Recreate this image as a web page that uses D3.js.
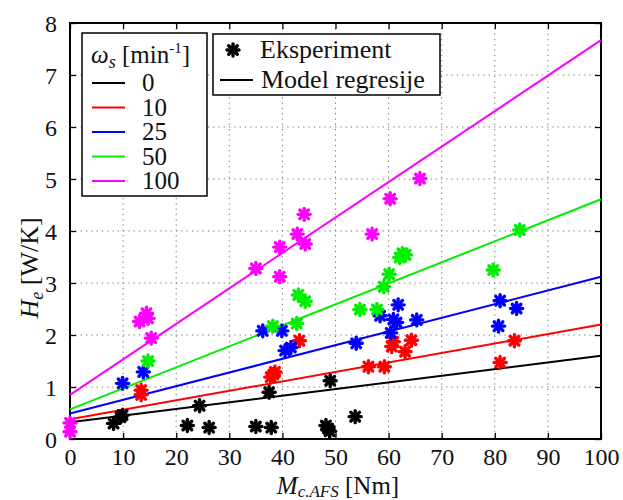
<!DOCTYPE html>
<html>
<head>
<meta charset="utf-8">
<script src="https://cdn.jsdelivr.net/npm/d3@7"></script>
<style>
  body { margin: 0; background: #fff; }
  svg { display: block; font-family: "Liberation Serif", "Times New Roman", Times, serif; }
</style>
</head>
<body>
<svg id="chart" width="623" height="500"></svg>
<script>
// ---------- data ----------
const xTicks = [0, 10, 20, 30, 40, 50, 60, 70, 80, 90, 100];
const yTicks = [0, 1, 2, 3, 4, 5, 6, 7, 8];
const speeds = ["0", "10", "25", "50", "100"];
const seriesColors = ["#000000", "#ff0000", "#0000ff", "#00ee00", "#ff00ff"];

// regression model: value at M = 0 and M = 100
const modelX = [0, 100];
const model0 = [0.32, 1.60];
const model10 = [0.38, 2.20];
const model25 = [0.49, 3.12];
const model50 = [0.57, 4.61];
const model100 = [0.85, 7.67];

// experiment points
const exp0X = [8.2, 9.5, 9.9, 22.1, 24.4, 26.2, 35, 37.9, 37.5, 49, 48.2, 48.6, 48.9, 53.7];
const exp0Y = [0.30, 0.42, 0.46, 0.26, 0.64, 0.22, 0.24, 0.22, 0.90, 1.12, 0.26, 0.20, 0.15, 0.43];

const exp10X = [13.4, 13.4, 37.8, 38.3, 38.6, 43.2, 56.2, 59.2, 60.6, 60.9, 63.1, 64.3, 81, 83.7];
const exp10Y = [0.94, 0.85, 1.19, 1.24, 1.29, 1.89, 1.39, 1.39, 1.78, 1.87, 1.68, 1.90, 1.47, 1.89];

const exp25X = [9.9, 13.8, 36.3, 39.9, 40.5, 41.6, 53.9, 58.4, 60.4, 60.9, 61.5, 61.8, 65.3, 80.7, 81, 84.1];
const exp25Y = [1.07, 1.29, 2.08, 2.08, 1.70, 1.76, 1.84, 2.37, 2.04, 2.30, 2.24, 2.58, 2.29, 2.17, 2.66, 2.51];

const exp50X = [14.7, 38.2, 42.7, 43, 44.3, 54.6, 57.8, 59.1, 60.1, 62.1, 62.6, 63.2, 79.7, 84.7];
const exp50Y = [1.50, 2.17, 2.22, 2.77, 2.65, 2.49, 2.49, 2.93, 3.17, 3.49, 3.57, 3.54, 3.25, 4.02];

const exp100X = [0, 0, 13.1, 14.4, 14.7, 15.3, 35, 39.5, 39.5, 42.8, 44.3, 44.1, 56.9, 60.3, 65.9];
const exp100Y = [0.31, 0.14, 2.26, 2.42, 2.32, 1.94, 3.28, 3.69, 3.12, 3.94, 3.75, 4.32, 3.94, 4.62, 5.01];

const models = [model0, model10, model25, model50, model100];
const expX = [exp0X, exp10X, exp25X, exp50X, exp100X];
const expY = [exp0Y, exp10Y, exp25Y, exp50Y, exp100Y];

// ---------- layout ----------
const L = 70, R = 601, T = 23, B = 439;
const x = d3.scaleLinear().domain([0, 100]).range([L, R]);
const y = d3.scaleLinear().domain([0, 8]).range([B, T]);
const serif = "'Liberation Serif', 'Times New Roman', Times, serif";

const svg = d3.select("#chart");

// grid
const grid = svg.append("g");
grid.selectAll("line.gx").data(xTicks.slice(1, -1)).enter().append("line")
  .attr("x1", d => x(d)).attr("x2", d => x(d)).attr("y1", T).attr("y2", B)
  .attr("stroke", "#777").attr("stroke-width", 1).attr("stroke-dasharray", "1.3,4");
grid.selectAll("line.gy").data(yTicks.slice(1, -1)).enter().append("line")
  .attr("y1", d => y(d)).attr("y2", d => y(d)).attr("x1", L).attr("x2", R)
  .attr("stroke", "#777").attr("stroke-width", 1).attr("stroke-dasharray", "1.3,4");

// axes (ticks inside, box)
const fontSize = 24;
const axB = svg.append("g").attr("transform", `translate(0,${B})`)
  .call(d3.axisBottom(x).tickValues(xTicks).tickSize(-6).tickPadding(9).tickFormat(d3.format("d")));
const axL = svg.append("g").attr("transform", `translate(${L},0)`)
  .call(d3.axisLeft(y).tickValues(yTicks).tickSize(-6).tickPadding(13).tickFormat(d3.format("d")));
const axT = svg.append("g").attr("transform", `translate(0,${T})`)
  .call(d3.axisTop(x).tickValues(xTicks).tickSize(-6).tickFormat(""));
const axR = svg.append("g").attr("transform", `translate(${R},0)`)
  .call(d3.axisRight(y).tickValues(yTicks).tickSize(-6).tickFormat(""));
[axB, axL, axT, axR].forEach(a => {
  a.attr("font-family", serif);
  a.select(".domain").remove();
  a.selectAll(".tick line").attr("stroke", "#000").attr("stroke-width", 1.3);
  a.selectAll("text").attr("font-size", fontSize).attr("fill", "#111")
    .style("font-family", serif);
});
axL.selectAll("text").attr("dy", "0.34em");

svg.append("rect").attr("x", L).attr("y", T).attr("width", R - L).attr("height", B - T)
  .attr("fill", "none").attr("stroke", "#000").attr("stroke-width", 2);

// regression lines
const line = d3.line().x((d, i) => x(modelX[i])).y(d => y(d));
models.forEach((m, k) => {
  svg.append("path").attr("d", line(m)).attr("fill", "none")
    .attr("stroke", seriesColors[k]).attr("stroke-width", 2);
});

// star marker
function star(g, cx, cy, color) {
  const a = 6, b = 4.3;
  const segs = [[-a, 0, a, 0], [0, -a, 0, a], [-b, -b, b, b], [-b, b, b, -b]];
  segs.forEach(s => g.append("line")
    .attr("x1", cx + s[0]).attr("y1", cy + s[1]).attr("x2", cx + s[2]).attr("y2", cy + s[3])
    .attr("stroke", color).attr("stroke-width", 3.4).attr("stroke-linecap", "round"));
}
const pts = svg.append("g");
expX.forEach((xs, k) => {
  xs.forEach((v, i) => star(pts, x(v), y(expY[k][i]), seriesColors[k]));
});

// axis labels
const xl = svg.append("text").attr("x", 338).attr("y", 494).attr("text-anchor", "middle")
  .attr("font-size", 25).attr("fill", "#111");
xl.append("tspan").attr("font-style", "italic").text("M");
xl.append("tspan").attr("font-style", "italic").attr("font-size", 17).attr("dy", 3).text("c.AFS");
xl.append("tspan").attr("dy", -3).text(" [Nm]");

const yl = svg.append("text").attr("transform", "translate(38,268) rotate(-90)")
  .attr("text-anchor", "middle").attr("font-size", 26).attr("fill", "#111");
yl.append("tspan").attr("font-style", "italic").text("H");
yl.append("tspan").attr("font-style", "italic").attr("font-size", 18).attr("dy", 5).text("e");
yl.append("tspan").attr("dy", -5).text(" [W/K]");

// legend 1
const lg1 = svg.append("g");
lg1.append("rect").attr("x", 82).attr("y", 33).attr("width", 125).attr("height", 163)
  .attr("fill", "#fff").attr("stroke", "#000").attr("stroke-width", 1.5);
const tt = lg1.append("text").attr("x", 91).attr("y", 63).attr("font-size", 25).attr("fill", "#111");
tt.append("tspan").attr("font-style", "italic").text("ω");
tt.append("tspan").attr("font-style", "italic").attr("font-size", 18).attr("dy", 5).text("s");
tt.append("tspan").attr("dy", -5).text(" [min");
tt.append("tspan").attr("font-size", 15).attr("dy", -10).text("-1");
tt.append("tspan").attr("dy", 10).text("]");
speeds.forEach((s, i) => {
  const yy = 83 + i * 24.5;
  lg1.append("line").attr("x1", 92).attr("x2", 125).attr("y1", yy).attr("y2", yy)
    .attr("stroke", seriesColors[i]).attr("stroke-width", 2);
  lg1.append("text").attr("x", 142).attr("y", yy + 8).attr("font-size", 25)
    .attr("fill", "#111").text(s);
});

// legend 2
const lg2 = svg.append("g");
lg2.append("rect").attr("x", 213).attr("y", 34).attr("width", 227).attr("height", 61)
  .attr("fill", "#fff").attr("stroke", "#000").attr("stroke-width", 1.5);
star(lg2, 233, 50, "#000");
lg2.append("text").attr("x", 260).attr("y", 58).attr("font-size", 26).attr("fill", "#111").text("Eksperiment");
lg2.append("line").attr("x1", 220).attr("x2", 253).attr("y1", 80).attr("y2", 80)
  .attr("stroke", "#000").attr("stroke-width", 2);
lg2.append("text").attr("x", 261).attr("y", 88).attr("font-size", 26).attr("fill", "#111").text("Model regresije");
</script>
</body>
</html>
